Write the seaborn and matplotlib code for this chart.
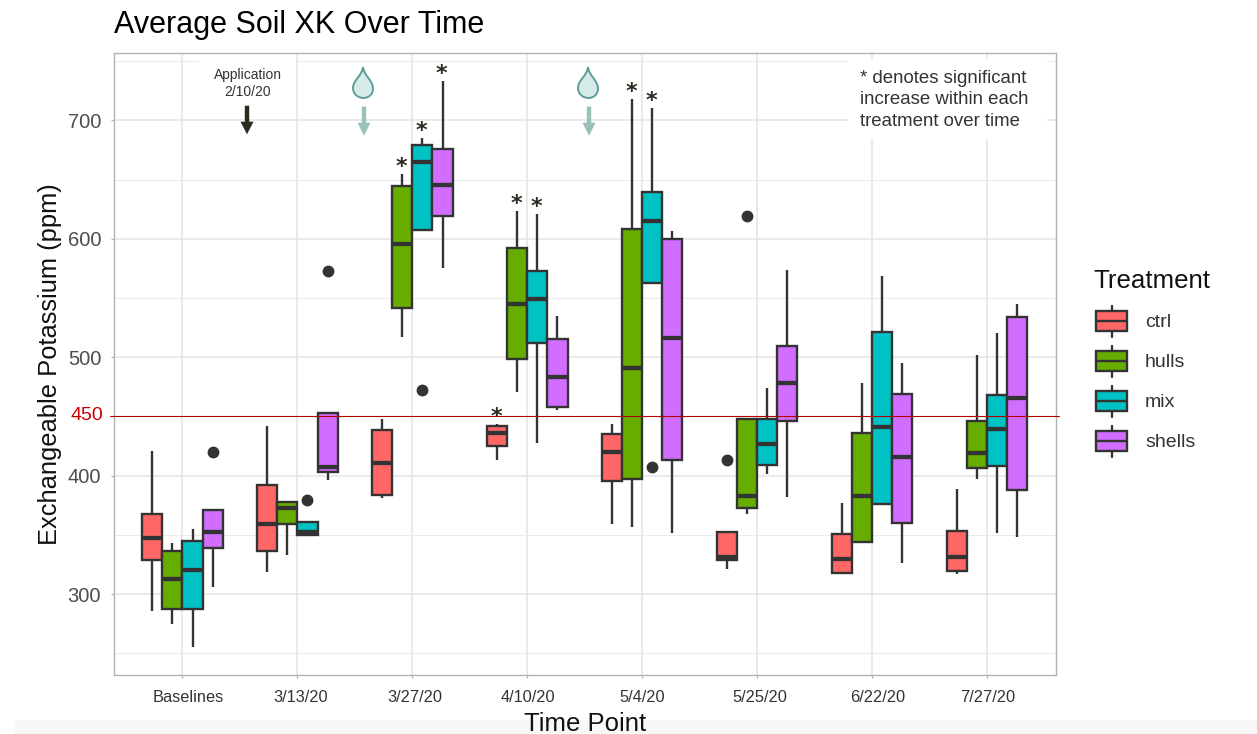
import matplotlib
matplotlib.use('Agg')
import pandas as pd
import seaborn as sns
import matplotlib.pyplot as plt
from matplotlib.legend_handler import HandlerPatch
from matplotlib.lines import Line2D
from matplotlib.patches import Patch, PathPatch, Polygon, Rectangle
from matplotlib.path import Path
from matplotlib.transforms import ScaledTranslation

# Values
dates = ['Baselines', '3/13/20', '3/27/20', '4/10/20', '5/4/20', '5/25/20', '6/22/20', '7/27/20']
treatments = ['ctrl', 'hulls', 'mix', 'shells']
colors = ['#FF6666', '#66AD00', '#00C1C4', '#D16DFF']

# one row per date, columns follow treatments
whisker_low = [[285.6, 275, 255.5, 306],
               [318.3, 333, 349, 396],
               [381.4, 517.3, 607.4, 575],
               [413, 471, 427.3, 455.4],
               [359.1, 356.3, 563, 351.3],
               [321, 368, 401, 382.2],
               [316.6, 343.7, 375.7, 326.4],
               [316.6, 397, 351.3, 348.4]]
q1 = [[329, 287.6, 287, 339],
      [336.3, 359.4, 350, 403],
      [383.6, 541.3, 607.4, 619.2],
      [425.3, 498.7, 511.7, 457.7],
      [395.7, 397, 563, 413],
      [328.7, 372.4, 409.2, 446.4],
      [318, 343.7, 375.7, 359.7],
      [319.4, 406.4, 408, 387.8]]
medians = [[347, 313, 320, 352],
           [359, 372.6, 352.6, 407],
           [410.4, 595.9, 665, 645.4],
           [435.7, 544.9, 548.9, 483.5],
           [419.9, 491, 615.3, 516],
           [331.5, 382.5, 426.4, 478],
           [329.8, 383, 441.3, 415.4],
           [331.5, 419.4, 439, 465.3]]
q3 = [[368, 336.3, 345, 370.7],
      [391.8, 377.4, 361, 452.6],
      [438.5, 644.6, 678.9, 676],
      [441.9, 592.5, 573, 515],
      [435.1, 608, 639.5, 600],
      [352.6, 448, 448, 509.7],
      [350.4, 436.2, 521.5, 469],
      [353.2, 446.4, 468.4, 534]]
whisker_high = [[420.8, 342.8, 354.9, 370.7],
                [441.9, 377.4, 361, 452.6],
                [447.5, 654.7, 685.6, 733.5],
                [443.6, 623.5, 620.7, 534.8],
                [443.6, 718.4, 710.8, 606.6],
                [352.6, 448, 473.7, 573.6],
                [376.6, 478.5, 568.6, 494.8],
                [388.7, 501.9, 520.7, 544.6]]

outlier_dates = ['Baselines', '3/13/20', '3/13/20', '3/27/20', '5/4/20', '5/25/20', '5/25/20']
outlier_treatments = ['shells', 'mix', 'shells', 'mix', 'mix', 'ctrl', 'hulls']
outlier_values = [420, 379, 573, 472, 407, 413, 619]

star_dates = ['3/27/20', '3/27/20', '3/27/20', '4/10/20', '4/10/20', '4/10/20', '5/4/20', '5/4/20']
star_treatments = ['hulls', 'mix', 'shells', 'ctrl', 'hulls', 'mix', 'hulls', 'mix']

W, H = 1257, 734
BOX_W = 0.7
LINE = '#333333'


def box_points(low, a, mid, b, high, out=None):
    # 9 points so that the quartiles land exactly on a, mid, b
    if out is None:
        return [low, a, a, mid, mid, mid, b, b, high]
    if out > b:
        return [low, a, a, mid, mid, mid, b, high, out]
    return [out, low, a, mid, mid, mid, b, b, high]


outliers = {(d, t): v for d, t, v in zip(outlier_dates, outlier_treatments, outlier_values)}
rows = []
for i, d in enumerate(dates):
    for j, t in enumerate(treatments):
        pts = box_points(whisker_low[i][j], q1[i][j], medians[i][j], q3[i][j],
                         whisker_high[i][j], outliers.get((d, t)))
        rows += [{'date': d, 'treatment': t, 'ppm': p} for p in pts]
df = pd.DataFrame(rows)

sns.set_theme(style='whitegrid', rc={'axes.edgecolor': '#b3b3b3', 'axes.linewidth': 1.0,
                                     'grid.color': '#e4e4e4', 'grid.linewidth': 1.1})
plt.rcParams['font.family'] = ['Liberation Sans', 'DejaVu Sans']

fig = plt.figure(figsize=(W / 100, H / 100), dpi=100)
ax = fig.add_axes([113.5 / W, 1 - 675 / H, (1056 - 113.5) / W, (675 - 53) / H])

sns.boxplot(data=df, x='date', y='ppm', hue='treatment', order=dates, hue_order=treatments,
            palette=colors, saturation=1, width=BOX_W, gap=0, linewidth=1.7, linecolor=LINE,
            showcaps=False, medianprops={'linewidth': 3.1},
            flierprops={'marker': 'o', 'markersize': 7.5, 'markerfacecolor': LINE,
                        'markeredgecolor': LINE},
            legend=False, ax=ax)

ax.set_xlim(-0.6, 7.6)
ax.set_ylim(231.6, 757)
ax.set_axisbelow(True)
ax.set_yticks([300, 400, 450, 500, 600, 700])
ax.set_yticks([250, 350, 550, 650, 750], minor=True)
ax.grid(True, which='major', axis='both')
ax.grid(True, which='minor', axis='y', linewidth=0.7, color='#ebebeb')
ax.tick_params(axis='both', which='major', length=2.4, width=0.9, color='#b3b3b3', bottom=True, left=True)
ax.tick_params(axis='y', which='minor', length=0)
ax.tick_params(axis='y', which='major', labelsize=14.5, labelcolor='#4d4d4d', pad=6.5)
ax.tick_params(axis='x', which='major', labelsize=11.8, labelcolor='#333333', pad=8.5)
for gl, v in zip(ax.get_ygridlines(), ax.get_yticks()):
    if v == 450:
        gl.set_visible(False)

# hand placed labels in the original sit a bit off their ticks
for lab, dx in zip(ax.get_xticklabels(), [5.5, 3.5, 2, 0.5, 0, 3, 6, 0.5]):
    lab.set_transform(lab.get_transform() + ScaledTranslation(dx / 100, 0, fig.dpi_scale_trans))
for lab, v in zip(ax.get_yticklabels(), ax.get_yticks()):
    if v == 450:
        lab.set_color('#CC0000')
        lab.set_fontsize(14)
        lab.set_transform(lab.get_transform() + ScaledTranslation(0.025, 0.025, fig.dpi_scale_trans))

ax.axhline(450, xmin=-0.004, xmax=1.003, color='#B00000', linewidth=0.8, clip_on=False, zorder=6)

ax.set_title('Average Soil XK Over Time', loc='left', fontsize=22, color='black', pad=14.5)
ax.set_xlabel('Time Point', fontsize=18.5, color='#111111')
ax.set_ylabel('Exchangeable Potassium (ppm)', fontsize=18.4, color='#111111')
ax.xaxis.set_label_coords(0.5, -0.06)
ax.yaxis.set_label_coords((62 - 113.5) / 942.5, 0.5)


def fx(px):
    return px / W


def fy(py):
    return 1 - py / H


def add_fig_patch(patch):
    patch.set_transform(fig.transFigure)
    patch.set_clip_on(False)
    ax.add_patch(patch)


def white_box(x0, y0, x1, y1):
    add_fig_patch(Rectangle((fx(x0), fy(y1)), fx(x1 - x0), (y1 - y0) / H,
                            facecolor='white', edgecolor='none', zorder=1.5))


def down_arrow(x, top, head, tip, color):
    pts = [(x - 2.2, top), (x + 2.2, top), (x + 2.2, head), (x + 6.5, head), (x, tip),
           (x - 6.5, head), (x - 2.2, head)]
    add_fig_patch(Polygon([(fx(a), fy(b)) for a, b in pts], closed=True,
                          facecolor=color, edgecolor='none', zorder=3))


def droplet(x, y):
    # y is the tip, body about 31 px below it
    verts = [(x, y), (x + 1, y + 9), (x + 10, y + 13), (x + 10, y + 22),
             (x + 10, y + 27), (x + 6, y + 31), (x + 0.5, y + 31),
             (x - 5, y + 31), (x - 10, y + 27), (x - 10, y + 21),
             (x - 10, y + 13), (x - 1, y + 9), (x, y)]
    codes = [Path.MOVETO] + [Path.CURVE4] * 12
    path = Path([(fx(a), fy(b)) for a, b in verts], codes)
    add_fig_patch(PathPatch(path, facecolor='#D6EAEA', edgecolor='#5F9E98', linewidth=1.4, zorder=3))


white_box(848, 59, 1047, 139)
white_box(199, 59, 296, 64)

down_arrow(247, 105.7, 121.7, 134.3, '#2B2A1F')
down_arrow(364, 106.7, 122.7, 135.7, '#98C1BA')
down_arrow(589, 106.7, 122.7, 135.7, '#98C1BA')
droplet(363, 67)
droplet(588, 67)

fig.text(fx(248), fy(83.5), 'Application\n2/10/20', ha='center', va='center', fontsize=10,
         color='#333333', linespacing=1.2)
fig.text(fx(860), fy(100), '* denotes significant\nincrease within each\ntreatment over time',
         ha='left', va='center', fontsize=13.4, color='#333333', linespacing=1.31)

# significance stars sit just over the top whisker of their box
for d, t in zip(star_dates, star_treatments):
    i = dates.index(d)
    j = treatments.index(t)
    xpos = i + (j - 1.5) * BOX_W / 4
    ax.annotate('*', xy=(xpos, whisker_high[i][j]), xytext=(-1, 1), textcoords='offset pixels',
                ha='center', va='baseline', fontsize=16, fontweight='bold', color='#2B2A1F',
                family='DejaVu Sans', zorder=5)


class BoxKey(HandlerPatch):
    # ggplot style key: box with median and whisker stubs
    def create_artists(self, legend, orig, xd, yd, width, height, fontsize, trans):
        left = -xd + width * 0.09
        right = -xd + width
        cx = (left + right) / 2
        cy = -yd + height / 2
        bh = height * 0.64
        rect = Rectangle((left, cy - bh / 2), right - left, bh, facecolor=orig.get_facecolor(),
                         edgecolor=LINE, linewidth=1.7, transform=trans)
        mid = Line2D([left, right], [cy, cy], color=LINE, linewidth=1.7, transform=trans)
        up = Line2D([cx, cx], [cy + bh / 2, -yd + height], color=LINE, linewidth=1.7, transform=trans)
        down = Line2D([cx, cx], [-yd, cy - bh / 2], color=LINE, linewidth=1.7, transform=trans)
        return [up, down, rect, mid]


handles = [Patch(facecolor=c, label=t) for c, t in zip(colors, treatments)]
leg = ax.legend(handles=handles, handler_map={Patch: BoxKey()}, title='Treatment', frameon=False,
                loc='upper left', bbox_to_anchor=(fx(1093), fy(268.5)), bbox_transform=fig.transFigure,
                borderaxespad=0, borderpad=0, fontsize=14, title_fontsize=18.6, alignment='left',
                handlelength=1.75, handleheight=2.08, labelspacing=0.46, handletextpad=0.93)
leg._legend_box.sep = 9.5
leg.get_title().set_color('#111111')
for txt in leg.get_texts():
    txt.set_color('#333333')

# pale band along the bottom of the screenshot
fig.add_artist(Rectangle((fx(15), 0), 1 - fx(15), 14 / H, transform=fig.transFigure,
                         facecolor='#F8F8F8', edgecolor='none', zorder=-1))

fig.savefig('out.png', dpi=100)
